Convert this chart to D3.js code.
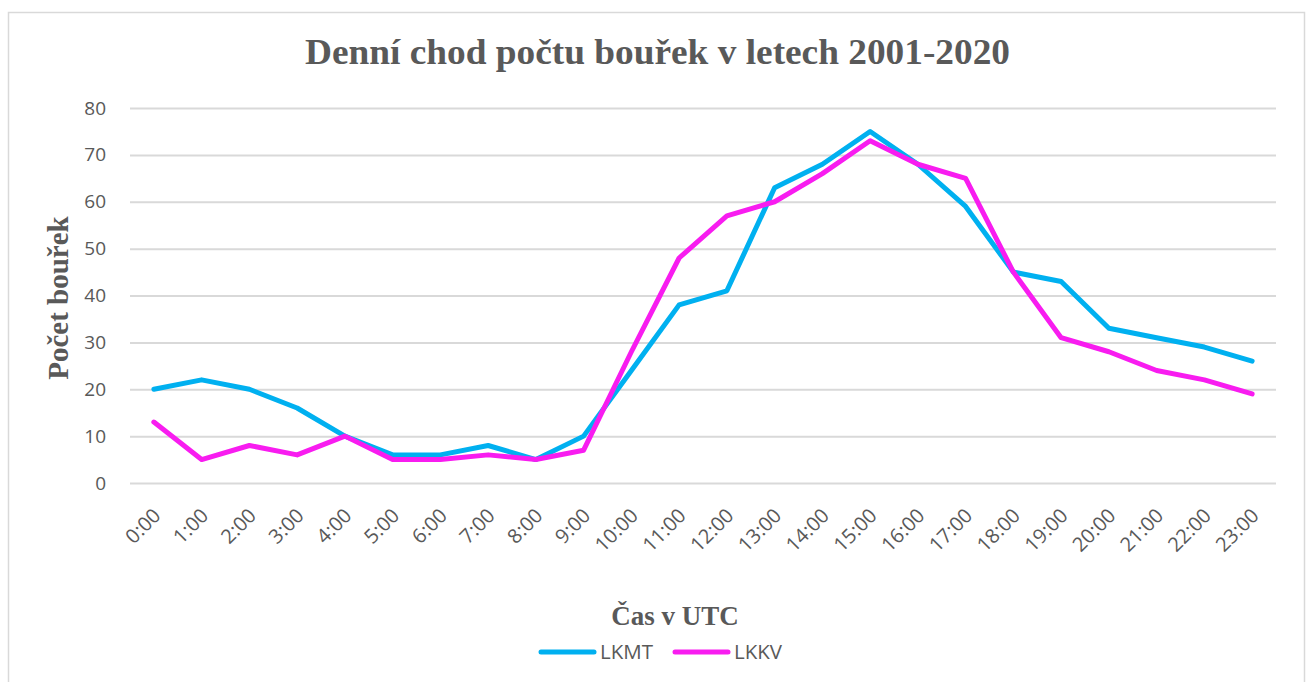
<!DOCTYPE html>
<html><head><meta charset="utf-8">
<script src="https://cdn.jsdelivr.net/npm/d3@7"></script>
<style>body{margin:0;background:#fff}</style>
</head><body>
<svg id="c" width="1309" height="682"></svg>
<script>
const categories = ["0:00","1:00","2:00","3:00","4:00","5:00","6:00","7:00","8:00","9:00","10:00","11:00","12:00","13:00","14:00","15:00","16:00","17:00","18:00","19:00","20:00","21:00","22:00","23:00"];
const lkmt = [20,22,20,16,10,6,6,8,5,10,24,38,41,63,68,75,68,59,45,43,33,31,29,26];
const lkkv = [13,5,8,6,10,5,5,6,5,7,28,48,57,60,66,73,68,65,45,31,28,24,22,19];
const yTicks = [0,10,20,30,40,50,60,70,80];
const seriesNames = ["LKMT","LKKV"];
const colors = ["#00B0F0","#F81CF0"];

(function(){
const svg = d3.select("#c");
svg.append("rect").attr("x",8.5).attr("y",12.5).attr("width",1296).attr("height",680)
  .attr("fill","#fff").attr("stroke","#D9D9D9").attr("stroke-width",1.5);

const pL=130, pR=1276, pT=108, pB=483;
const x = d3.scaleBand().domain(categories).range([pL,pR]);
const y = d3.scaleLinear().domain([0,80]).range([pB,pT]);

svg.append("text").attr("x",657.5).attr("y",64).attr("text-anchor","middle")
  .attr("font-family","Liberation Serif").attr("font-weight","bold").attr("font-size",36)
  .attr("textLength",705).attr("lengthAdjust","spacingAndGlyphs")
  .attr("fill","#595959").text("Denní chod počtu bouřek v letech 2001-2020");

const yAxis = d3.axisLeft(y).tickValues(yTicks).tickSize(-(pR-pL)).tickPadding(24);
const gy = svg.append("g").attr("transform",`translate(${pL},0)`).call(yAxis);
gy.select(".domain").remove();
gy.selectAll(".tick line").attr("stroke","#D9D9D9").attr("stroke-width",2);
gy.selectAll(".tick text").attr("font-family","Open Sans, Liberation Sans").attr("font-size",19).attr("fill","#595959");

const xAxis = d3.axisBottom(x).tickSize(0).tickPadding(0);
const gx = svg.append("g").attr("transform",`translate(0,${pB})`).call(xAxis);
gx.select(".domain").remove();
gx.selectAll(".tick text").attr("font-family","Open Sans, Liberation Sans").attr("font-size",20).attr("fill","#595959")
  .attr("text-anchor","end").attr("dy","0.35em").attr("transform","translate(3,29) rotate(-45)");

svg.append("text").attr("transform","translate(68,298) rotate(-90)").attr("text-anchor","middle")
  .attr("font-family","Liberation Serif").attr("font-weight","bold").attr("font-size",29)
  .attr("fill","#595959").text("Počet bouřek");
svg.append("text").attr("x",675).attr("y",625).attr("text-anchor","middle")
  .attr("font-family","Liberation Serif").attr("font-weight","bold").attr("font-size",27)
  .attr("fill","#595959").text("Čas v UTC");

const line = d3.line().x((d,i)=>x(categories[i])+x.bandwidth()/2).y(d=>y(d));
[lkmt,lkkv].forEach((s,k)=>{
  svg.append("path").attr("d",line(s)).attr("fill","none").attr("stroke",colors[k])
    .attr("stroke-width",5).attr("stroke-linejoin","round").attr("stroke-linecap","round");
});

const legX=[541,675];
seriesNames.forEach((n,k)=>{
  svg.append("line").attr("x1",legX[k]).attr("x2",legX[k]+53).attr("y1",652).attr("y2",652)
    .attr("stroke",colors[k]).attr("stroke-width",5).attr("stroke-linecap","round");
  svg.append("text").attr("x",legX[k]+59).attr("y",652).attr("dy","0.35em")
    .attr("font-family","Open Sans, Liberation Sans").attr("font-size",20.5).attr("fill","#595959").text(n);
});
})();
</script>
</body></html>
